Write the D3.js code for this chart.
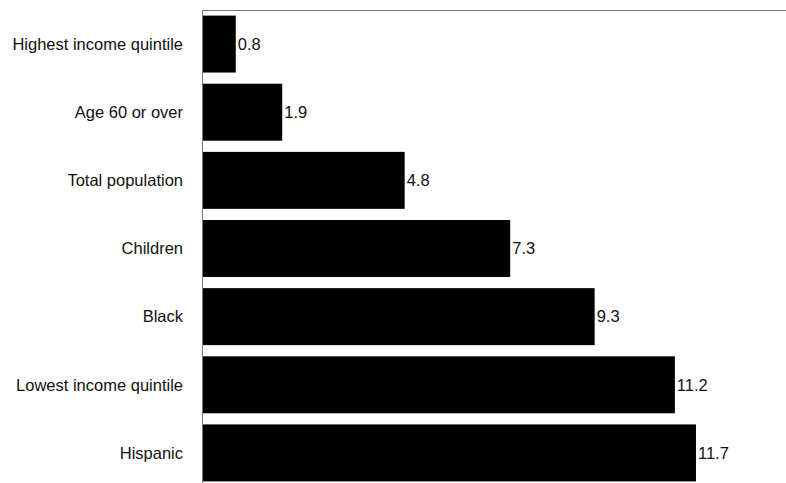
<!DOCTYPE html>
<html>
<head>
<meta charset="utf-8">
<script src="https://cdn.jsdelivr.net/npm/d3@7"></script>
<style>
  html, body { margin: 0; padding: 0; background: #fff; }
  svg { display: block; font-family: "Liberation Sans", Arial, sans-serif; }
</style>
</head>
<body>
<svg id="chart" width="786" height="483"></svg>
<script>
// Group labels, top to bottom, and their values
const categories = [
  "Highest income quintile",
  "Age 60 or over",
  "Total population",
  "Children",
  "Black",
  "Lowest income quintile",
  "Hispanic"
];
const values = [0.8, 1.9, 4.8, 7.3, 9.3, 11.2, 11.7];

const width = 786, height = 483;
const margin = { top: 10, left: 202, right: 0 };
const plotBottom = 487;
const fontSize = 16.5;

const svg = d3.select("#chart");

const x = d3.scaleLinear()
  .domain([0, 14])
  .range([margin.left, margin.left + 42.22 * 14]);

const y = d3.scaleBand()
  .domain(categories)
  .range([margin.top, plotBottom])
  .paddingInner(0.164)
  .paddingOuter(0.082);

// Frame: top rule and left axis line
svg.append("line")
  .attr("x1", margin.left).attr("x2", width)
  .attr("y1", margin.top + 0.5).attr("y2", margin.top + 0.5)
  .attr("stroke", "#777").attr("stroke-width", 1);

svg.append("line")
  .attr("x1", margin.left + 0.5).attr("x2", margin.left + 0.5)
  .attr("y1", margin.top).attr("y2", height)
  .attr("stroke", "#777").attr("stroke-width", 1);

const data = categories.map((c, i) => ({ c, v: values[i] }));

// Bars
svg.append("g")
  .selectAll("rect")
  .data(data)
  .join("rect")
  .attr("x", x(0) + 1)
  .attr("y", d => y(d.c))
  .attr("width", d => x(d.v) - x(0) - 1)
  .attr("height", y.bandwidth())
  .attr("fill", "#000");

// Value labels at bar ends
svg.append("g")
  .selectAll("text")
  .data(data)
  .join("text")
  .attr("x", d => x(d.v) + 2)
  .attr("y", d => y(d.c) + y.bandwidth() / 2)
  .attr("dy", "0.35em")
  .attr("font-size", fontSize)
  .attr("fill", "#111")
  .text(d => d.v.toFixed(1));

// Category labels
svg.append("g")
  .selectAll("text")
  .data(categories)
  .join("text")
  .attr("x", 183)
  .attr("y", d => y(d) + y.bandwidth() / 2)
  .attr("dy", "0.35em")
  .attr("text-anchor", "end")
  .attr("font-size", fontSize)
  .attr("fill", "#111")
  .text(d => d);
</script>
</body>
</html>
